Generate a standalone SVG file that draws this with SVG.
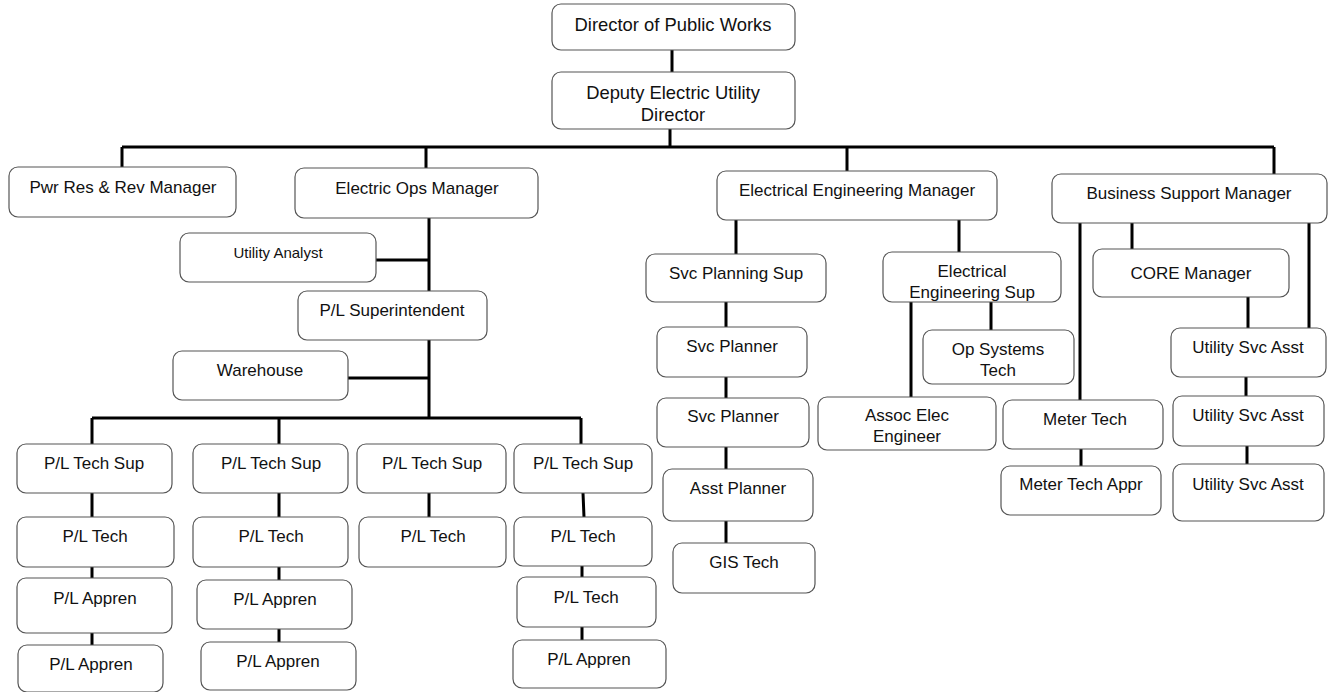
<svg xmlns="http://www.w3.org/2000/svg" width="1333" height="692" viewBox="0 0 1333 692">
<style>
.box rect{fill:#fff;stroke:#555;stroke-width:1.2}
.box text{font-family:"Liberation Sans",Arial,sans-serif;font-size:17px;fill:#111;text-anchor:middle;dominant-baseline:central}
.big text{font-size:18.4px}
.sm text{font-size:15px}
#connectors path{stroke:#000;stroke-width:3;fill:none}
</style>
<rect width="1333" height="692" fill="#fff"/>
<g id="connectors">
<path d="M672 50V72"/>
<path d="M670 129V147"/>
<path d="M122 147H1274"/>
<path d="M122 147V168M426 147V169M847 147V171M1274 147V174"/>
<path d="M429 218V419M376 260H429M348 378H429"/>
<path d="M92 418H581M92 418V444M279 418V444M581 418V444"/>
<path d="M92 493V517M92 567V578M92 633V645"/>
<path d="M279 493V517M279 567V580M279 629V642"/>
<path d="M429 493V517"/>
<path d="M583 493L584 517M582 566V577M582 627V640"/>
<path d="M736 220V254M726 302V327M726 377V398M726 447V469M726 521V543"/>
<path d="M959 220V252M911 302V397M991 302V330"/>
<path d="M1080 223V400M1132 223V249M1309 223V328M1248 297V328M1246 377V396M1247 446V464M1081 449V466"/>
</g>
<g id="n-director" class="box big"><rect x="552" y="4" width="243" height="46" rx="9"/><text x="673" y="24">Director of Public Works</text></g>
<g id="n-deputy" class="box big"><rect x="552" y="72" width="243" height="57" rx="9"/><text x="673" y="92">Deputy Electric Utility</text><text x="673" y="114">Director</text></g>
<g id="n-pwr" class="box"><rect x="9" y="167" width="227" height="50" rx="9"/><text x="123" y="187">Pwr Res &amp; Rev Manager</text></g>
<g id="n-eops" class="box"><rect x="295" y="168" width="243" height="50" rx="9"/><text x="417" y="188">Electric Ops Manager</text></g>
<g id="n-eeng" class="box"><rect x="717" y="171" width="280" height="49" rx="9"/><text x="857" y="190">Electrical Engineering Manager</text></g>
<g id="n-bsm" class="box"><rect x="1052" y="174" width="275" height="49" rx="9"/><text x="1189" y="193">Business Support Manager</text></g>
<g id="n-analyst" class="box sm"><rect x="180" y="233" width="196" height="49" rx="9"/><text x="278" y="252">Utility Analyst</text></g>
<g id="n-plsup" class="box"><rect x="298" y="291" width="189" height="49" rx="9"/><text x="392" y="310">P/L Superintendent</text></g>
<g id="n-warehouse" class="box"><rect x="173" y="351" width="175" height="49" rx="9"/><text x="260" y="370">Warehouse</text></g>
<g id="n-ts1" class="box"><rect x="17" y="444" width="155" height="49" rx="9"/><text x="94" y="463">P/L Tech Sup</text></g>
<g id="n-ts2" class="box"><rect x="193" y="444" width="155" height="49" rx="9"/><text x="271" y="463">P/L Tech Sup</text></g>
<g id="n-ts3" class="box"><rect x="357" y="444" width="149" height="49" rx="9"/><text x="432" y="463">P/L Tech Sup</text></g>
<g id="n-ts4" class="box"><rect x="514" y="444" width="138" height="49" rx="9"/><text x="583" y="463">P/L Tech Sup</text></g>
<g id="n-t1" class="box"><rect x="17" y="517" width="157" height="50" rx="9"/><text x="95" y="536">P/L Tech</text></g>
<g id="n-a1a" class="box"><rect x="17" y="578" width="155" height="55" rx="9"/><text x="95" y="598">P/L Appren</text></g>
<g id="n-a1b" class="box"><rect x="18" y="645" width="145" height="47" rx="9"/><text x="91" y="664">P/L Appren</text></g>
<g id="n-t2" class="box"><rect x="193" y="517" width="155" height="50" rx="9"/><text x="271" y="536">P/L Tech</text></g>
<g id="n-a2a" class="box"><rect x="197" y="580" width="155" height="49" rx="9"/><text x="275" y="599">P/L Appren</text></g>
<g id="n-a2b" class="box"><rect x="201" y="642" width="155" height="48" rx="9"/><text x="278" y="661">P/L Appren</text></g>
<g id="n-t3" class="box"><rect x="359" y="517" width="147" height="50" rx="9"/><text x="433" y="536">P/L Tech</text></g>
<g id="n-t4a" class="box"><rect x="514" y="517" width="138" height="49" rx="9"/><text x="583" y="536">P/L Tech</text></g>
<g id="n-t4b" class="box"><rect x="517" y="577" width="139" height="50" rx="9"/><text x="586" y="597">P/L Tech</text></g>
<g id="n-a4" class="box"><rect x="513" y="640" width="153" height="48" rx="9"/><text x="589" y="659">P/L Appren</text></g>
<g id="n-svcsup" class="box"><rect x="646" y="254" width="180" height="48" rx="9"/><text x="736" y="273">Svc Planning Sup</text></g>
<g id="n-svcp1" class="box"><rect x="657" y="327" width="150" height="50" rx="9"/><text x="732" y="346">Svc Planner</text></g>
<g id="n-svcp2" class="box"><rect x="657" y="398" width="152" height="49" rx="9"/><text x="733" y="416">Svc Planner</text></g>
<g id="n-asstp" class="box"><rect x="663" y="469" width="150" height="52" rx="9"/><text x="738" y="488">Asst Planner</text></g>
<g id="n-gis" class="box"><rect x="673" y="543" width="142" height="50" rx="9"/><text x="744" y="562">GIS Tech</text></g>
<g id="n-eesup" class="box"><rect x="883" y="252" width="178" height="50" rx="9"/><text x="972" y="271">Electrical</text><text x="972" y="292">Engineering Sup</text></g>
<g id="n-opsys" class="box"><rect x="923" y="330" width="151" height="54" rx="9"/><text x="998" y="349">Op Systems</text><text x="998" y="370">Tech</text></g>
<g id="n-assoc" class="box"><rect x="818" y="397" width="178" height="53" rx="9"/><text x="907" y="415">Assoc Elec</text><text x="907" y="436">Engineer</text></g>
<g id="n-core" class="box"><rect x="1093" y="249" width="196" height="48" rx="9"/><text x="1191" y="273">CORE Manager</text></g>
<g id="n-usa1" class="box"><rect x="1171" y="328" width="155" height="49" rx="9"/><text x="1248" y="347">Utility Svc Asst</text></g>
<g id="n-usa2" class="box"><rect x="1173" y="396" width="151" height="50" rx="9"/><text x="1248" y="415">Utility Svc Asst</text></g>
<g id="n-usa3" class="box"><rect x="1173" y="464" width="151" height="57" rx="9"/><text x="1248" y="484">Utility Svc Asst</text></g>
<g id="n-meter" class="box"><rect x="1003" y="400" width="160" height="49" rx="9"/><text x="1085" y="419">Meter Tech</text></g>
<g id="n-meterappr" class="box"><rect x="1001" y="466" width="160" height="49" rx="9"/><text x="1081" y="484">Meter Tech Appr</text></g>
</svg>
